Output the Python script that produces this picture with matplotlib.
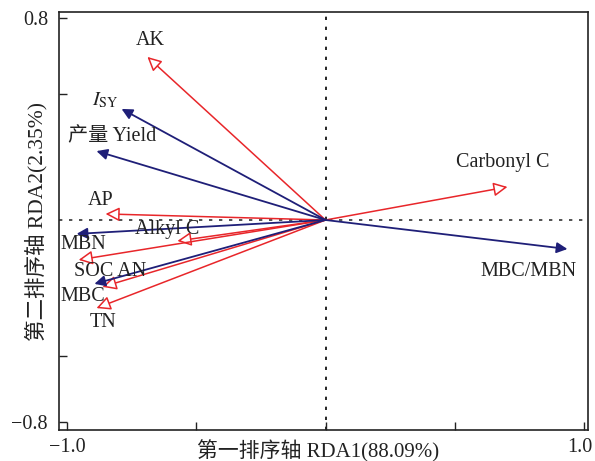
import matplotlib
matplotlib.use("Agg")
import matplotlib.pyplot as plt
from matplotlib.transforms import ScaledTranslation

plt.rcParams['font.family'] = ['Liberation Serif', 'Noto Sans CJK SC', 'DejaVu Sans']
plt.rcParams['mathtext.fontset'] = 'stix'
plt.rcParams['axes.unicode_minus'] = True

# variables de suelo (flechas rojas, punta abierta)
env_names = ['AK', 'Carbonyl C', 'AP', 'Alkyl C', 'SOC', 'AN', 'TN']
env_x = [-0.689, 0.704, -0.851, -0.573, -0.955, -0.863, -0.886]
env_y = [0.646, 0.131, 0.024, -0.083, -0.158, -0.265, -0.349]

# variables de respuesta (flechas azules, punta llena)
resp_names = ['I_SY', '产量 Yield', 'MBN', 'MBC', 'MBC/MBN']
resp_x = [-0.789, -0.886, -0.963, -0.894, 0.936]
resp_y = [0.440, 0.273, -0.055, -0.253, -0.115]

# etiquetas (texto, x, y)
etiquetas = [
    ('AK', -0.677, 0.713),
    (r'$I_{\mathrm{SY}}$', -0.851, 0.475),
    ('产量 Yield', -0.824, 0.329),
    ('Carbonyl C', 0.685, 0.226),
    ('AP', -0.870, 0.079),
    ('Alkyl C', -0.611, -0.036),
    ('MBN', -0.936, -0.099),
    ('SOC AN', -0.832, -0.206),
    ('MBC', -0.940, -0.305),
    ('TN', -0.859, -0.408),
    ('MBC/MBN', 0.785, -0.206),
]

fig = plt.figure(figsize=(5.95, 4.61), dpi=100)
ax = fig.add_axes([0.0992, 0.0672, 0.8888, 0.9068])

ax.axhline(0, color='#333333', lw=1.2, ls=(0, (2, 4)), zorder=1)
ax.axvline(0, color='black', lw=1.2, ls=(0, (2, 4)), zorder=1)

for x, y in zip(env_x, env_y):
    ax.annotate('', xy=(x, y), xytext=(0, 0),
                arrowprops=dict(arrowstyle='-|>', mutation_scale=21, lw=1.1,
                                edgecolor='#e8262a', facecolor='white',
                                shrinkA=0, shrinkB=0), zorder=3)

for x, y in zip(resp_x, resp_y):
    ax.annotate('', xy=(x, y), xytext=(0, 0),
                arrowprops=dict(arrowstyle='-|>', mutation_scale=16, lw=1.3,
                                color='#1f1f78', shrinkA=0, shrinkB=0), zorder=3)

for txt, x, y in etiquetas:
    ax.text(x, y, txt, fontsize=14.5, color='#222222', ha='center', va='center', zorder=4)

ax.set_xlim(-1.031, 1.015)
ax.set_ylim(-0.832, 0.824)

ax.set_xticks([-1.0, -0.5, 0, 0.5, 1.0])
ax.set_xticklabels(['−1.0', '', '', '', '1.0'])
ax.set_yticks([-0.8, -0.54, 0.5, 0.8])
ax.set_yticklabels(['−0.8', '', '', '0.8'])
ax.tick_params(direction='in', length=6, width=1, labelsize=14.5, colors='#222222')
ax.tick_params(axis='x', pad=6)
ax.tick_params(axis='y', pad=8)

# el último rótulo se corre un poco a la izquierda para que no se corte
ult = ax.get_xticklabels()[-1]
ult.set_transform(ult.get_transform() + ScaledTranslation(-4 / 100, 0, fig.dpi_scale_trans))

for s in ax.spines.values():
    s.set_linewidth(1.2)
    s.set_color('#222222')

fig.text(318 / 595, 1 - 451 / 461, '第一排序轴 RDA1(88.09%)', fontsize=15,
         color='#222222', ha='center', va='center')
ax.set_ylabel('第二排序轴 RDA2(2.35%)', fontsize=15.5, color='#222222')
ax.yaxis.set_label_coords(-0.021, 0.5)

fig.savefig('out.png', dpi=100)
